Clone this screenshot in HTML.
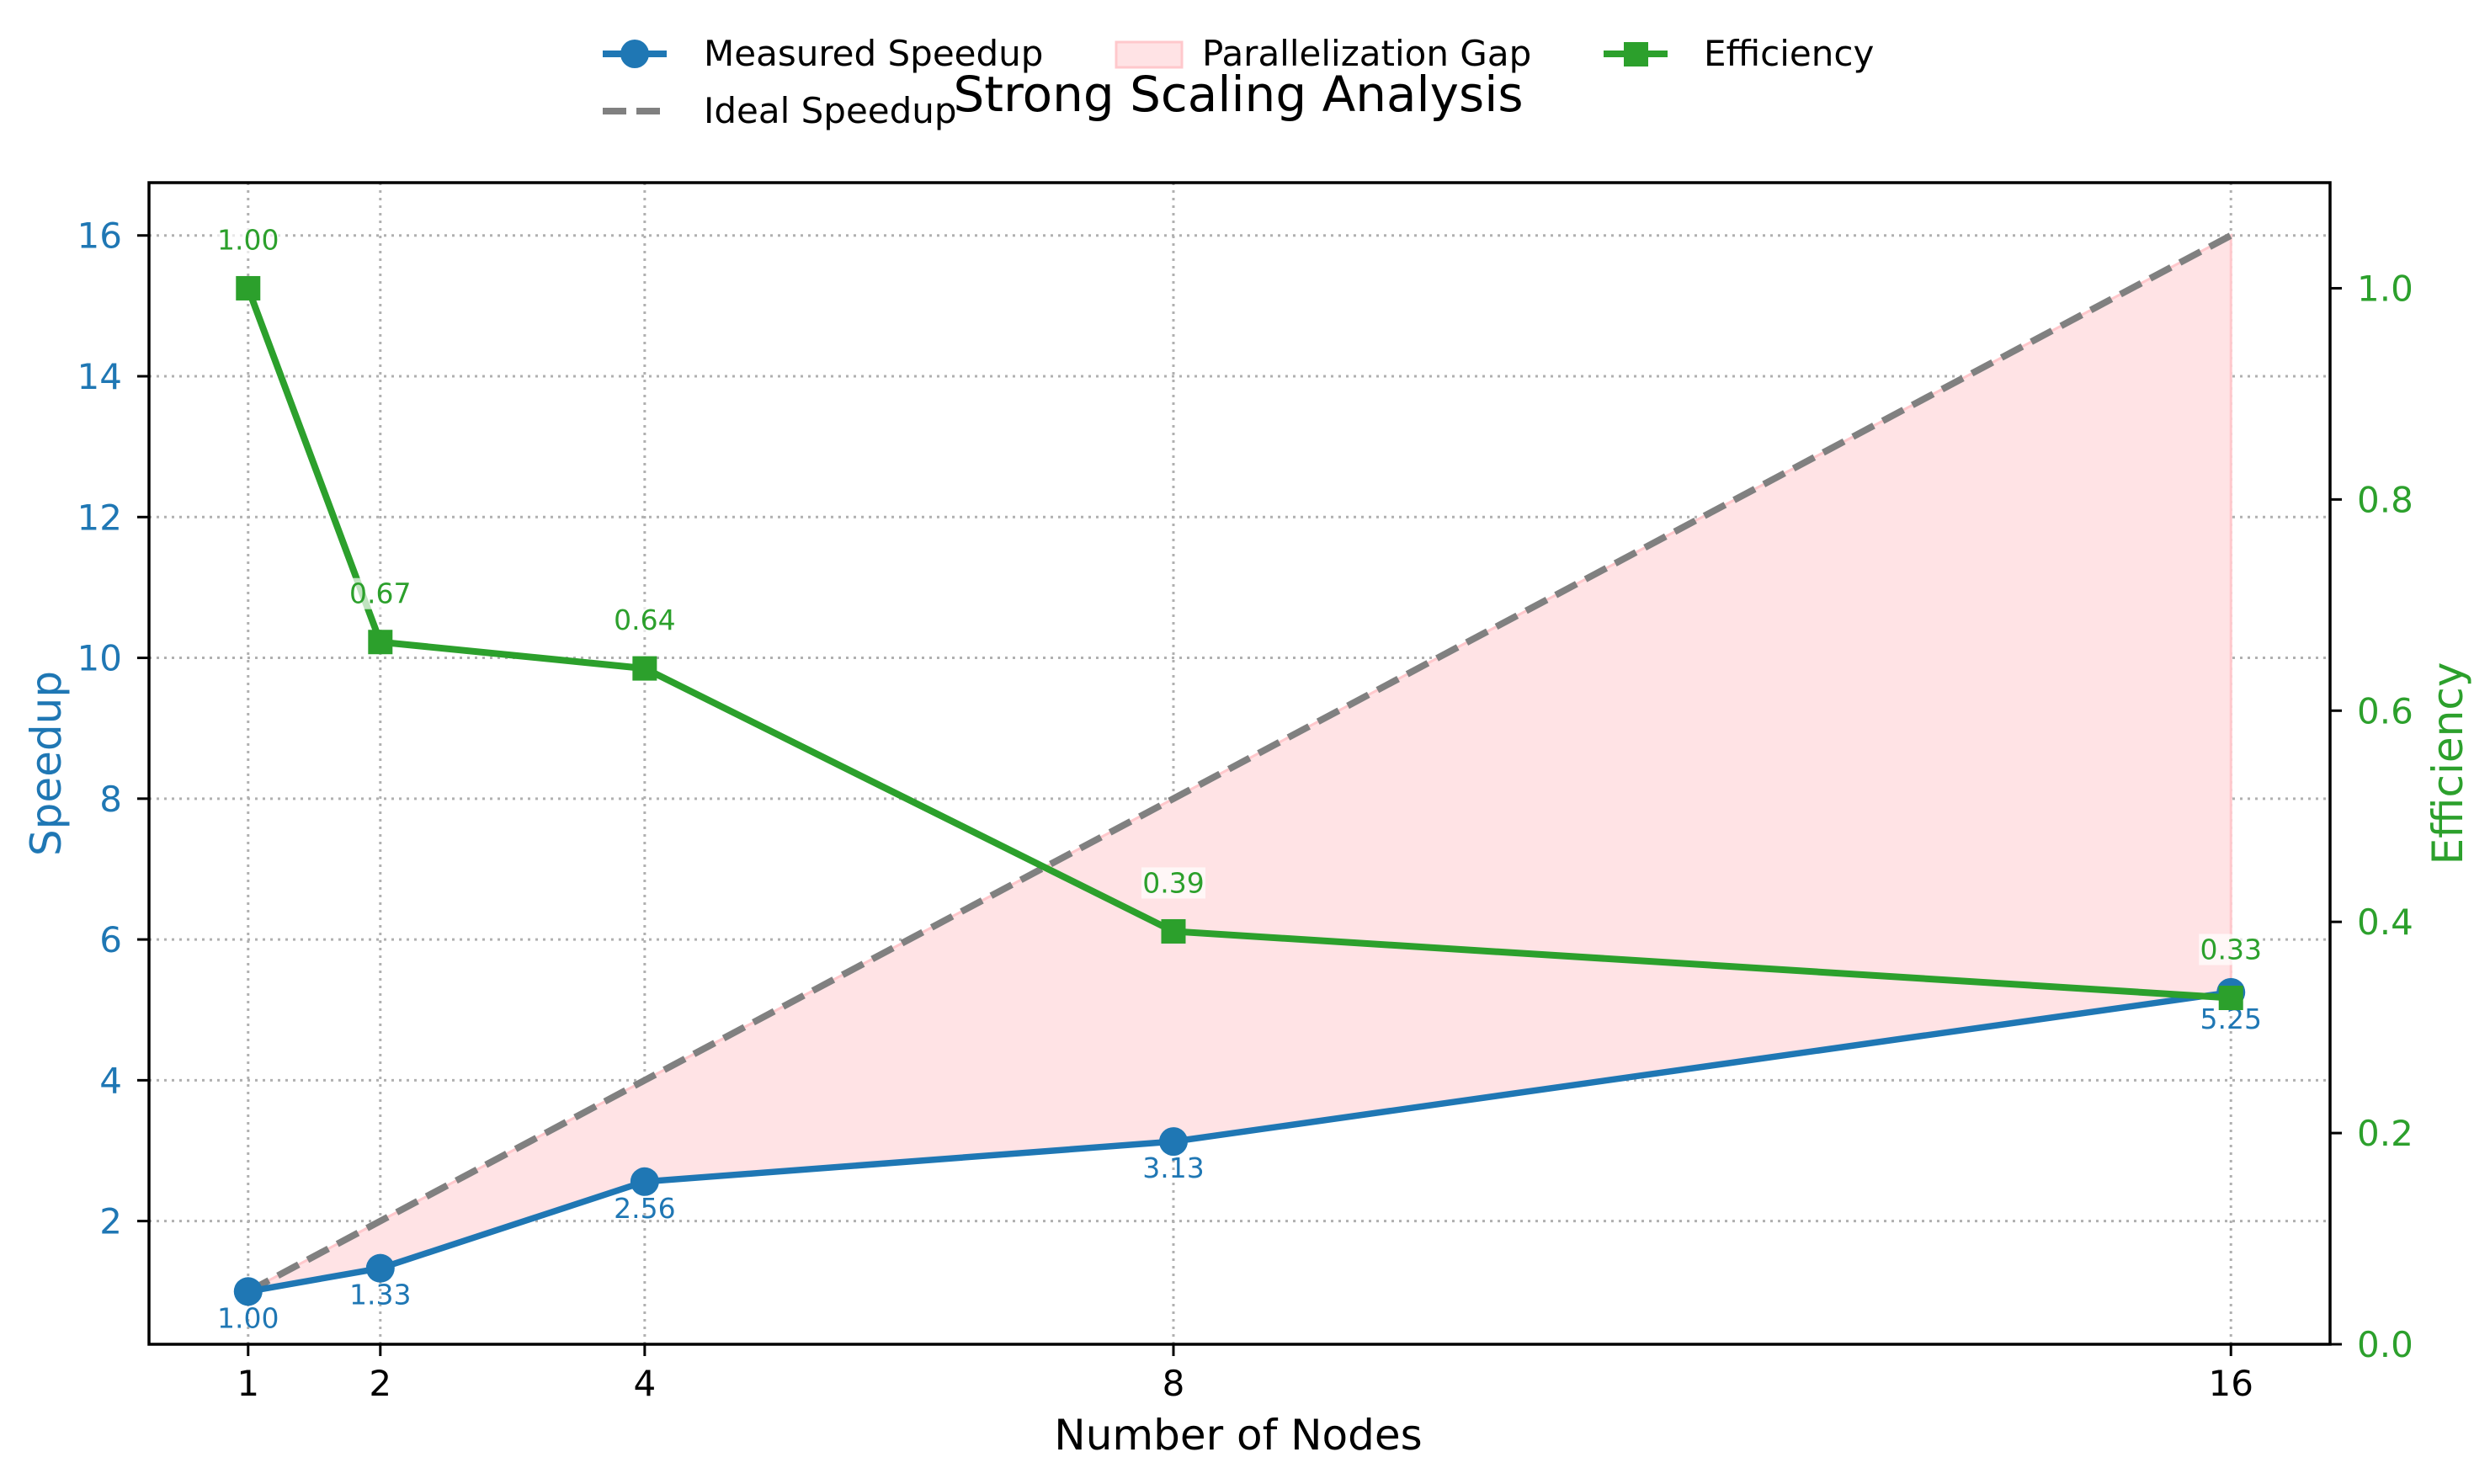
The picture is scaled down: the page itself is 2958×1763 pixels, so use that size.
<!DOCTYPE html>
<html><head><meta charset="utf-8"><style>
html,body{margin:0;padding:0;background:#fff;}
svg{display:block;font-family:"DejaVu Sans","Liberation Sans",sans-serif;}
</style></head><body>
<svg id="chart" width="2958" height="1763" viewBox="0 0 2958 1763" xmlns="http://www.w3.org/2000/svg">
<g id="grid"></g>
<g id="fill"></g>
<g id="series"></g>
<g id="axes"></g>
<text x="1471" y="132" font-size="58" text-anchor="middle">Strong Scaling Analysis</text>
<text x="1471" y="1722" font-size="50" text-anchor="middle">Number of Nodes</text>
<text x="0" y="0" font-size="50" fill="#1f77b4" text-anchor="middle" transform="translate(72,907) rotate(-90)">Speedup</text>
<text x="0" y="0" font-size="50" fill="#2ca02c" text-anchor="middle" transform="translate(2925,907) rotate(-90)">Efficiency</text>
<g>
 <g>
  <line x1="716" y1="64" x2="792" y2="64" stroke="#1f77b4" stroke-width="8"/>
  <circle cx="754" cy="64" r="17" fill="#1f77b4"/>
  <text x="836" y="78" font-size="42">Measured Speedup</text>
 </g>
 <g>
  <line x1="716" y1="132" x2="792" y2="132" stroke="#808080" stroke-width="8" stroke-dasharray="28,12"/>
  <text x="836" y="146" font-size="42">Ideal Speedup</text>
 </g>
 <g>
  <rect x="1326" y="50" width="78" height="30" fill="#ffe3e5" stroke="#ffc8cc" stroke-width="3"/>
  <text x="1428" y="78" font-size="42">Parallelization Gap</text>
 </g>
 <g>
  <line x1="1905" y1="64" x2="1981" y2="64" stroke="#2ca02c" stroke-width="8"/>
  <rect x="1929" y="50" width="29" height="29" fill="#2ca02c"/>
  <text x="2024" y="78" font-size="42">Efficiency</text>
 </g>
</g>
<script>
const nodes=[1,2,4,8,16];
const measured=[1.00,1.33,2.56,3.13,5.25];
const ideal=[1,2,4,8,16];
const efficiency=[1.00,0.665,0.64,0.391,0.328];
const xTicks=[1,2,4,8,16];
const yTicks=[2,4,6,8,10,12,14,16];
const y2Ticks=[0.0,0.2,0.4,0.6,0.8,1.0];
</script>
<script>
(function(){
const NS="http://www.w3.org/2000/svg";
const L=177,R=2768,T=217,B=1597;
const xs=v=>L+(v-0.25)/(16.75-0.25)*(R-L);
const ys=v=>B-(v-0.25)/(16.75-0.25)*(B-T);
const y2=v=>B-v/1.1*(B-T);
function mk(tag,attrs,parent){const e=document.createElementNS(NS,tag);for(const k in attrs)e.setAttribute(k,attrs[k]);parent.appendChild(e);return e;}
const grid=document.getElementById('grid'),fill=document.getElementById('fill'),ser=document.getElementById('series'),ax=document.getElementById('axes');
xTicks.forEach(t=>{const l=mk('line',{x1:xs(t),x2:xs(t),y1:T,y2:B,stroke:'#b0b0b0','stroke-width':3,'stroke-dasharray':'3,6'},grid);

});
yTicks.forEach(t=>{const l=mk('line',{x1:L,x2:R,y1:ys(t),y2:ys(t),stroke:'#b0b0b0','stroke-width':3,'stroke-dasharray':'3,6'},grid);

});
let d='M'+nodes.map((n,i)=>xs(n)+','+ys(ideal[i])).join(' L');
for(let i=nodes.length-1;i>=0;i--)d+=' L'+xs(nodes[i])+','+ys(measured[i]);
d+='Z';
const fp=mk('path',{d:d,fill:'#ffe3e5',stroke:'#ffc8cc','stroke-width':3},fill);


const idl=mk('polyline',{points:nodes.map((n,i)=>xs(n)+','+ys(ideal[i])).join(' '),fill:'none',stroke:'#808080','stroke-width':8,'stroke-dasharray':'28,12'},ser);


const ml=mk('polyline',{points:nodes.map((n,i)=>xs(n)+','+ys(measured[i])).join(' '),fill:'none',stroke:'#1f77b4','stroke-width':7.5},ser);


nodes.forEach((n,i)=>{const c=mk('circle',{cx:xs(n),cy:ys(measured[i]),r:17,fill:'#1f77b4'},ser);


const t=mk('text',{x:xs(n),y:ys(measured[i])+43,'font-size':33,fill:'#1f77b4','text-anchor':'middle'},ser);
t.textContent=measured[i].toFixed(2);

});
const el=mk('polyline',{points:nodes.map((n,i)=>xs(n)+','+y2(efficiency[i])).join(' '),fill:'none',stroke:'#2ca02c','stroke-width':8},ser);


nodes.forEach((n,i)=>{const r=mk('rect',{x:xs(n)-14.5,y:y2(efficiency[i])-14.5,width:29,height:29,fill:'#2ca02c'},ser);


const b=mk('rect',{x:xs(n)-38,y:y2(efficiency[i])-76,width:76,height:37,fill:'#fff','fill-opacity':0.7},ser);


const t=mk('text',{x:xs(n),y:y2(efficiency[i])-46,'font-size':33,fill:'#2ca02c','text-anchor':'middle'},ser);
t.textContent=efficiency[i].toFixed(2);

});
const fr=mk('rect',{x:L,y:T,width:R-L,height:B-T,fill:'none',stroke:'#000','stroke-width':3.5},ax);


xTicks.forEach(t=>{mk('line',{x1:xs(t),x2:xs(t),y1:B,y2:B+14,stroke:'#000','stroke-width':3},ax);
const tx=mk('text',{x:xs(t),y:B+61,'font-size':42,'text-anchor':'middle'},ax);tx.textContent=t;

});
yTicks.forEach(t=>{mk('line',{x1:L-14,x2:L,y1:ys(t),y2:ys(t),stroke:'#000','stroke-width':3},ax);
const tx=mk('text',{x:L-32,y:ys(t)+15,'font-size':42,'text-anchor':'end',fill:'#1f77b4'},ax);tx.textContent=t;

});
y2Ticks.forEach(t=>{mk('line',{x1:R,x2:R+14,y1:y2(t),y2:y2(t),stroke:'#000','stroke-width':3},ax);
const tx=mk('text',{x:R+32,y:y2(t)+15,'font-size':42,'text-anchor':'start',fill:'#2ca02c'},ax);tx.textContent=t.toFixed(1);

});
})();
</script>
</svg>
</body></html>
